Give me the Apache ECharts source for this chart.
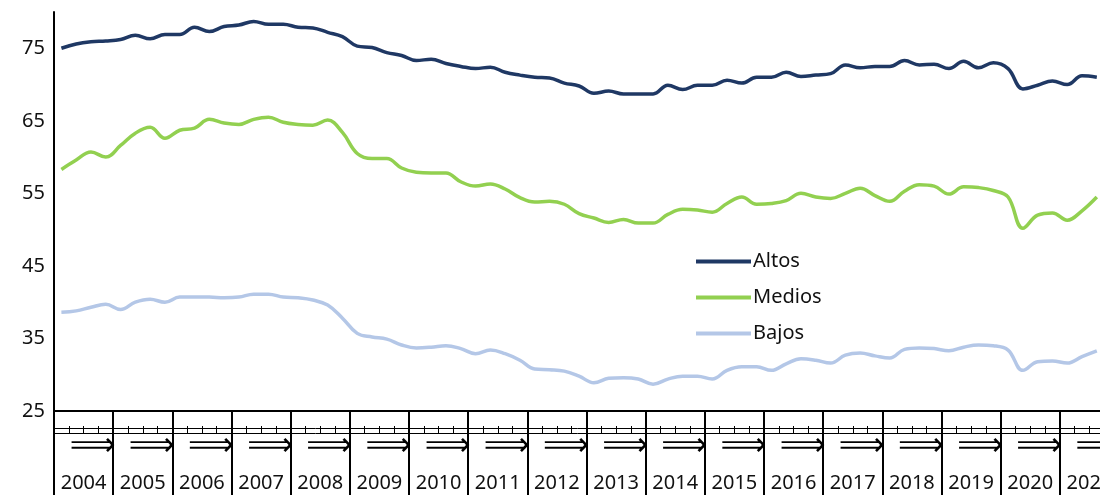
<!DOCTYPE html>
<html>
<head>
<meta charset="utf-8">
<script src="https://cdn.jsdelivr.net/npm/echarts@6/dist/echarts.min.js"></script>
<style>
html, body { margin: 0; padding: 0; background: #fff; }
#chart { width: 1100px; height: 495px; }
</style>
</head>
<body>
<div id="chart"></div>
<script>
var years = ['2004','2005','2006','2007','2008','2009','2010','2011','2012','2013','2014','2015','2016','2017','2018','2019','2020','2021'];
var quarters = ['I','II','III','IV'];
var yTicks = [25, 35, 45, 55, 65, 75];

// quarterly values, 2004-I to 2021-III
var altos = [
  75.0, 75.6, 75.9, 76.0,
  76.2, 76.8, 76.3, 76.9,
  76.9, 77.9, 77.3, 78.0,
  78.2, 78.7, 78.3, 78.3,
  77.9, 77.8, 77.2, 76.6,
  75.3, 75.1, 74.4, 74.0,
  73.3, 73.5, 72.9, 72.5,
  72.2, 72.4, 71.7, 71.3,
  71.0, 70.9, 70.2, 69.8,
  68.8, 69.1, 68.7, 68.7,
  68.7, 69.9, 69.3, 69.9,
  69.9, 70.6, 70.2, 71.0,
  71.0, 71.7, 71.1, 71.3,
  71.5, 72.7, 72.3, 72.5,
  72.5, 73.3, 72.7, 72.8,
  72.2, 73.2, 72.3, 73.0,
  72.2, 69.4, 69.9, 70.5,
  70.0, 71.2, 71.0
];
var medios = [
  58.3, 59.6, 60.7, 60.0,
  61.6, 63.3, 64.1, 62.6,
  63.7, 64.0, 65.2, 64.7,
  64.5, 65.2, 65.5, 64.8,
  64.5, 64.4, 65.1, 63.4,
  60.5, 59.8, 59.8, 58.5,
  57.9, 57.8, 57.8, 56.6,
  56.0, 56.3, 55.6, 54.4,
  53.8, 53.9, 53.5, 52.2,
  51.6, 51.0, 51.4, 50.9,
  50.9, 52.1, 52.8, 52.7,
  52.4, 53.6, 54.5, 53.5,
  53.6, 54.0, 55.0, 54.5,
  54.3, 55.0, 55.7, 54.7,
  53.9, 55.3, 56.2, 56.0,
  54.9, 55.9, 55.8, 55.4,
  54.5, 50.2, 52.0, 52.3,
  51.3, 52.6, 54.5
];
var bajos = [
  38.6, 38.8, 39.3, 39.7,
  39.0, 40.0, 40.4, 40.0,
  40.7, 40.7, 40.7, 40.6,
  40.7, 41.1, 41.1, 40.7,
  40.6, 40.3, 39.6, 37.8,
  35.7, 35.2, 34.9, 34.1,
  33.7, 33.8, 34.0, 33.6,
  32.9, 33.4, 32.9, 32.0,
  30.8, 30.7, 30.5, 29.8,
  28.9, 29.5, 29.6, 29.4,
  28.7, 29.4, 29.8, 29.8,
  29.4, 30.6, 31.1, 31.1,
  30.6, 31.5, 32.2, 32.0,
  31.6, 32.7, 33.0, 32.6,
  32.3, 33.5, 33.7, 33.6,
  33.3, 33.8, 34.1, 34.0,
  33.4, 30.6, 31.8, 31.9,
  31.6, 32.5, 33.3
];

var quarterCats = [];
for (let y of years) {
  for (let q of quarters) {
    quarterCats.push(y + '-' + q);
  }
}

var font = 'Noto Sans';
var chartDom = document.getElementById('chart');
var myChart = echarts.init(chartDom);
var option;

option = {
  animation: false,
  textStyle: { fontFamily: font },
  // plot runs past the right edge, the 2021 block is cut like in the source
  grid: { left: 54, width: 1065, top: 12, bottom: 84, outerBoundsMode: 'none', containLabel: false },
  legend: {
    orient: 'vertical',
    left: 691,
    top: 245,
    icon: 'rect',
    itemWidth: 55,
    itemHeight: 4,
    itemGap: 13,
    textStyle: { fontFamily: font, fontSize: 20, color: '#111', lineHeight: 23, padding: [0, 0, 0, -3] },
    data: ['Altos', 'Medios', 'Bajos']
  },
  xAxis: [
    {
      // quarters, main axis
      type: 'category',
      data: quarterCats,
      position: 'bottom',
      axisLine: { show: true, lineStyle: { color: '#000', width: 2 } },
      axisTick: { show: false },
      axisLabel: { show: false },
      splitLine: { show: false }
    },
    {
      // years: separators and labels
      type: 'category',
      data: years,
      position: 'bottom',
      axisLine: { show: false },
      axisTick: { show: true, length: 90, lineStyle: { color: '#000', width: 2 } },
      axisLabel: { show: true, margin: 62, fontSize: 20, color: '#111', fontFamily: font, interval: 0, hideOverlap: false },
      splitLine: { show: false }
    },
    {
      // quarter ticks row
      type: 'category',
      data: quarterCats,
      position: 'bottom',
      offset: 22,
      axisLine: { show: true, lineStyle: { color: '#000', width: 1 } },
      axisTick: { show: true, inside: true, length: 7, interval: 0, lineStyle: { color: '#000', width: 1 } },
      axisLabel: { show: false },
      splitLine: { show: false }
    },
    {
      // garbled quarter labels, shown as arrows
      type: 'category',
      data: years,
      position: 'bottom',
      offset: 17,
      axisLine: { show: true, lineStyle: { color: '#000', width: 1 } },
      axisTick: { show: false },
      axisLabel: {
        show: true, interval: 0, margin: 3,
        fontFamily: 'DejaVu Sans', fontSize: 32, color: '#000',
        formatter: function () { return '\u27F9'; },
        padding: [0, 0, 0, 18]
      },
      splitLine: { show: false }
    }
  ],
  yAxis: {
    type: 'value',
    min: 25,
    max: 80,
    interval: 10,
    axisLine: { show: true, lineStyle: { color: '#000', width: 2 } },
    axisTick: { show: false },
    splitLine: { show: false },
    axisLabel: {
      margin: 9, fontSize: 20, color: '#111', fontFamily: font,
      showMaxLabel: false,
      formatter: function (v) { return yTicks.indexOf(v) >= 0 ? String(v) : ''; }
    }
  },
  series: [
    {
      name: 'Altos', type: 'line', data: altos, xAxisIndex: 0,
      smooth: 0.4, symbol: 'none',
      itemStyle: { color: '#1F3864' },
      lineStyle: { color: '#1F3864', width: 3.5 }
    },
    {
      name: 'Medios', type: 'line', data: medios, xAxisIndex: 0,
      smooth: 0.4, symbol: 'none',
      itemStyle: { color: '#92D050' },
      lineStyle: { color: '#92D050', width: 3.5 }
    },
    {
      name: 'Bajos', type: 'line', data: bajos, xAxisIndex: 0,
      smooth: 0.4, symbol: 'none',
      itemStyle: { color: '#B4C7E7' },
      lineStyle: { color: '#B4C7E7', width: 3.5 }
    }
  ]
};

option && myChart.setOption(option);
</script>
</body>
</html>
